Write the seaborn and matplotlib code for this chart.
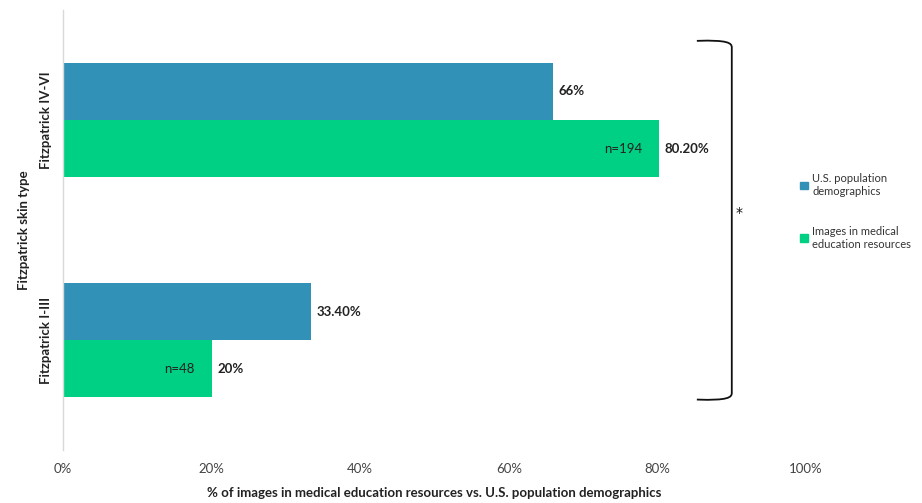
import matplotlib
matplotlib.use("Agg")
import matplotlib.pyplot as plt
from matplotlib.path import Path
from matplotlib.patches import PathPatch, Patch
import pandas as pd
import seaborn as sns

CATEGORIES = ["Fitzpatrick IV-VI", "Fitzpatrick I-III"]
SERIES = ["U.S. population\ndemographics", "Images in medical\neducation resources"]
US_POP = [66, 33.4]
IMAGES = [80.2, 20]
US_LABELS = ["66%", "33.40%"]
IMG_LABELS = ["80.20%", "20%"]
N_LABELS = ["n=194", "n=48"]
X_TICKS = [0, 20, 40, 60, 80, 100]
COLORS = ["#3291b6", "#00d084"]

df = pd.DataFrame({
    "cat": CATEGORIES * 2,
    "series": [SERIES[0]] * 2 + [SERIES[1]] * 2,
    "value": US_POP + IMAGES,
})

sns.set_style("white")
plt.rcParams["font.family"] = ["Lato", "DejaVu Sans"]

fig = plt.figure(figsize=(9.22, 5.03), dpi=100)
ax = fig.add_axes([0.0683, 0.105, 0.806, 0.875])

sns.barplot(data=df, y="cat", x="value", hue="series", orient="h",
            palette=COLORS, saturation=1, width=0.52, linewidth=0,
            ax=ax, legend=False)

# value labels
for cont, labels in zip(ax.containers, [US_LABELS, IMG_LABELS]):
    ax.bar_label(cont, labels=labels, padding=4, fontsize=9.5,
                 fontweight="bold", color="#222222")
# n= labels inside the green bars
ax.bar_label(ax.containers[1], labels=N_LABELS, label_type="edge",
             padding=-12, fontsize=9.5, color="#222222")
for t in ax.texts[-2:]:
    t.set_ha("right")

ax.set_xlim(0, 100)
ax.set_ylim(1.5, -0.5)
ax.set_xticks(X_TICKS)
ax.set_xticklabels([f"{v}%" for v in X_TICKS], fontsize=9.5, color="#444444")
ax.tick_params(axis="x", length=0, pad=9)
ax.tick_params(axis="y", length=0, pad=8)
for lab in ax.get_yticklabels():
    lab.set_rotation(90)
    lab.set_va("center")
    lab.set_fontweight("bold")
    lab.set_fontsize(9.5)
    lab.set_color("#222222")
ax.set_xlabel("% of images in medical education resources vs. U.S. population demographics",
              fontsize=9.5, fontweight="bold", color="#222222", labelpad=9)
ax.set_ylabel("Fitzpatrick skin type", fontsize=9.5, fontweight="bold",
              color="#222222", labelpad=7)

for s in ["top", "right", "bottom"]:
    ax.spines[s].set_visible(False)
ax.spines["left"].set_color("#d9d9d9")
ax.spines["left"].set_linewidth(1)

# significance bracket
x0, x1 = 85.3, 90.0
ytop, ybot = -0.36, 1.27
verts = [(x0, ytop), (x1 - 0.5, ytop - 0.005), (x1, ytop + 0.01), (x1, ytop + 0.03),
         (x1, ybot - 0.03),
         (x1, ybot - 0.01), (x1 - 0.5, ybot + 0.005), (x0, ybot)]
codes = [Path.MOVETO, Path.CURVE4, Path.CURVE4, Path.CURVE4,
         Path.LINETO,
         Path.CURVE4, Path.CURVE4, Path.CURVE4]
ax.add_patch(PathPatch(Path(verts, codes), fill=False, lw=1.3,
                       edgecolor="#111111", clip_on=False))
ax.text(x1 + 1.0, 0.42, "*", fontsize=10, family="DejaVu Sans",
        ha="center", va="center", color="#111111", clip_on=False)

handles = [Patch(color=c) for c in COLORS]
fig.legend(handles, SERIES, loc="center left", bbox_to_anchor=(0.857, 0.58),
           frameon=False, fontsize=8, handlelength=0.7, handleheight=0.7,
           handletextpad=0.4, labelspacing=2.6, labelcolor="#333333")

fig.savefig("out.png", dpi=100)
